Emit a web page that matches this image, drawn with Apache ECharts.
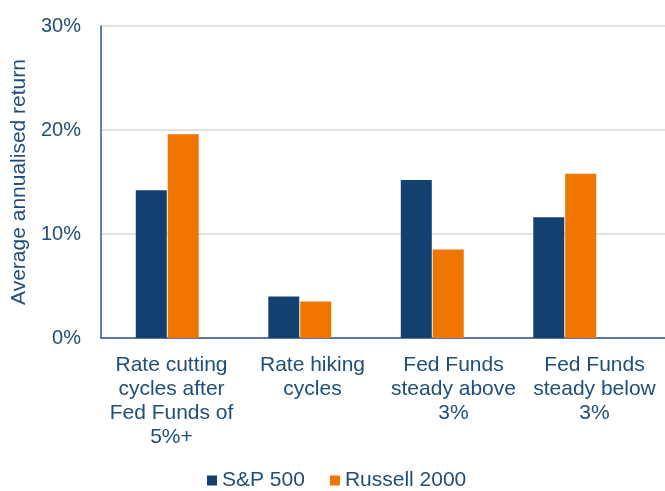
<!DOCTYPE html>
<html><head><meta charset="utf-8">
<script src="https://cdn.jsdelivr.net/npm/echarts@6/dist/echarts.min.js"></script>
<style>html,body{margin:0;padding:0;background:#fff}#c{width:665px;height:491px}</style>
</head><body><div id="c"></div>
<script>
var categories = ['Rate cutting\ncycles after\nFed Funds of\n5%+', 'Rate hiking\ncycles', 'Fed Funds\nsteady above\n3%', 'Fed Funds\nsteady below\n3%'];
var sp500 = [14.2, 4.0, 15.2, 11.6];
var russell2000 = [19.6, 3.5, 8.5, 15.8];
var yTicks = [0, 10, 20, 30];

var txt = '#1F4E79';
var font = 'Liberation Sans, Arial, sans-serif';
var chart = echarts.init(document.getElementById('c'));
chart.setOption({
  animation: false,
  textStyle: {fontFamily: font},
  grid: [
    {left: 101, right: 34, top: 26, bottom: 153},
    {left: 101, right: 0, top: 26, bottom: 153}
  ],
  legend: {
    data: ['S&P 500', 'Russell 2000'],
    top: 470, left: 207, padding: 0,
    itemWidth: 10, itemHeight: 10, itemGap: 25,
    icon: 'rect',
    textStyle: {color: txt, fontSize: 21, fontFamily: font, padding: [0, 0, 0, 0]}
  },
  xAxis: [
    {type: 'category', gridIndex: 0, data: categories, axisLine: {show: false}, axisTick: {show: false}, axisLabel: {show: false}},
    {type: 'category', gridIndex: 1, data: categories,
      axisLine: {show: true, lineStyle: {color: '#2F5597', width: 1.5}}, axisTick: {show: false},
      axisLabel: {color: txt, fontSize: 21, lineHeight: 24, margin: 15, interval: 0, fontFamily: font}}
  ],
  yAxis: [
    {type: 'value', gridIndex: 0, min: 0, max: 30, interval: 10, show: false, splitLine: {show: false}},
    {type: 'value', gridIndex: 1, min: 0, max: 30, interval: 10,
      name: 'Average annualised return', nameLocation: 'middle', nameGap: 69, nameRotate: 90,
      nameTextStyle: {color: txt, fontSize: 21, fontFamily: font},
      axisLine: {show: true, lineStyle: {color: '#2F5597', width: 1.5}}, axisTick: {show: false},
      axisLabel: {color: txt, fontSize: 20, margin: 20, fontFamily: font, formatter: function(v){return v + '%';}},
      splitLine: {show: true, lineStyle: {color: '#D9D9D9', width: 1.5}}}
  ],
  series: [
    {name: 'S&P 500', type: 'bar', xAxisIndex: 0, yAxisIndex: 0, data: sp500, barWidth: 31, barGap: '3%',
      itemStyle: {color: '#12406F'}},
    {name: 'Russell 2000', type: 'bar', xAxisIndex: 0, yAxisIndex: 0, data: russell2000, barWidth: 31, barGap: '3%',
      itemStyle: {color: '#F07400'}}
  ]
});
</script></body></html>
